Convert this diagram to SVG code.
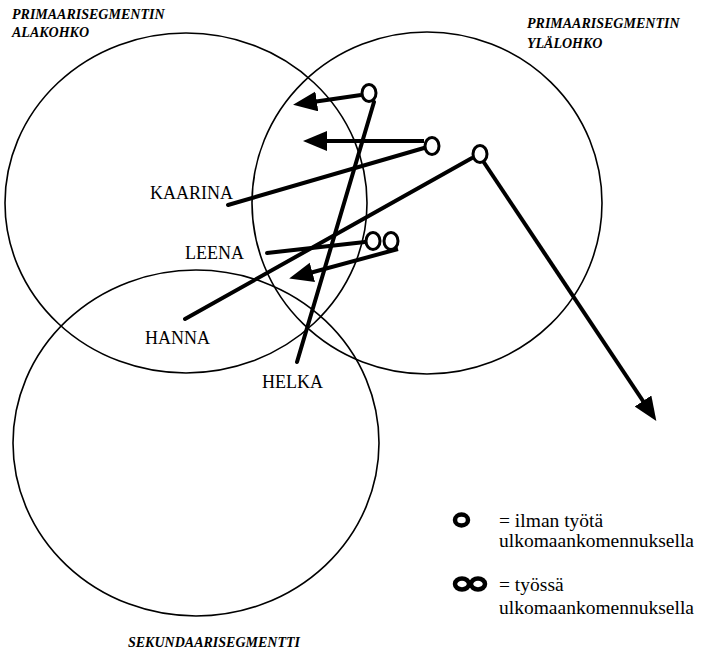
<svg xmlns="http://www.w3.org/2000/svg" width="701" height="652" viewBox="0 0 701 652">
  <style>
    .seg { fill: none; stroke: #000; stroke-width: 1.6; }
    .link { fill: none; stroke: #000; stroke-width: 4; stroke-linecap: round; }
    .arrow { fill: none; stroke: #000; stroke-width: 4; stroke-linecap: butt; marker-end: url(#head); }
    .ring { fill: #fff; stroke: #000; stroke-width: 3; }
    .key { fill: none; stroke: #000; stroke-width: 4.5; }
    text { font-family: "Liberation Serif", "Times New Roman", serif; fill: #000; }
    .name { font-size: 18px; }
    .title { font-size: 14px; font-style: italic; font-weight: bold; }
    .legend { font-size: 19.5px; }
  </style>
  <defs>
    <marker id="head" markerUnits="userSpaceOnUse" markerWidth="26" markerHeight="22" refX="18" refY="10" orient="auto">
      <path d="M0,0 L24,10 L0,20 Z" fill="#000"/>
    </marker>
  </defs>

  <!-- segment circles -->
  <g id="alakohko">
    <ellipse class="seg" cx="186" cy="203" rx="181" ry="170"/>
    <text class="title" x="12" y="19">PRIMAARISEGMENTIN</text>
    <text class="title" x="12" y="37">ALAKOHKO</text>
  </g>
  <g id="ylalohko">
    <ellipse class="seg" cx="427" cy="203" rx="175" ry="171"/>
    <text class="title" x="527" y="28">PRIMAARISEGMENTIN</text>
    <text class="title" x="527" y="48">YLÄLOHKO</text>
  </g>
  <g id="sekundaari">
    <ellipse class="seg" cx="196" cy="443" rx="183" ry="173"/>
    <text class="title" x="128" y="647">SEKUNDAARISEGMENTTI</text>
  </g>

  <!-- career paths -->
  <g id="connectors">
    <line class="link" x1="228" y1="205" x2="424" y2="148"/>
    <line class="link" x1="374" y1="102" x2="297" y2="362"/>
    <line class="link" x1="185" y1="319" x2="472" y2="158"/>
    <line class="link" x1="267" y1="253" x2="365" y2="242"/>
    <line class="arrow" x1="361" y1="95" x2="299" y2="104"/>
    <line class="arrow" x1="424" y1="141" x2="309" y2="141"/>
    <line class="arrow" x1="398" y1="249" x2="295" y2="277"/>
    <line class="arrow" x1="483" y1="161" x2="653" y2="416"/>
  </g>

  <!-- persons -->
  <g id="kaarina">
    <text class="name" x="150" y="199">KAARINA</text>
    <ellipse class="ring" cx="432" cy="146" rx="7" ry="8.5"/>
  </g>
  <g id="helka">
    <text class="name" x="262" y="388">HELKA</text>
    <ellipse class="ring" cx="369" cy="93" rx="7" ry="8.5"/>
  </g>
  <g id="hanna">
    <text class="name" x="145" y="344">HANNA</text>
    <ellipse class="ring" cx="480" cy="154" rx="7" ry="8.5"/>
  </g>
  <g id="leena">
    <text class="name" x="185" y="259">LEENA</text>
    <ellipse class="ring" cx="373" cy="241" rx="7" ry="8.5"/>
    <ellipse class="ring" cx="391" cy="241" rx="7" ry="8.5"/>
  </g>

  <!-- legend -->
  <g id="legend">
    <ellipse class="key" cx="461.5" cy="520" rx="6.5" ry="5.5"/>
    <text class="legend" x="499" y="527">= ilman työtä</text>
    <text class="legend" x="499" y="547">ulkomaankomennuksella</text>
    <ellipse class="key" cx="462" cy="584" rx="7" ry="5.5"/>
    <ellipse class="key" cx="478" cy="584" rx="7" ry="5.5"/>
    <text class="legend" x="499" y="591">= työssä</text>
    <text class="legend" x="499" y="614">ulkomaankomennuksella</text>
  </g>
</svg>
